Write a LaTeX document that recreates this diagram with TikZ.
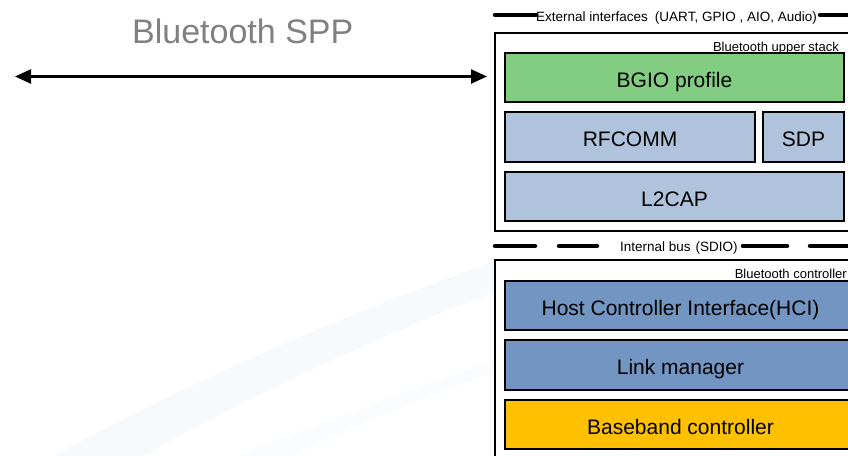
\documentclass[tikz,border=0pt]{standalone}
\usepackage{fontspec}
\setmainfont{Liberation Sans}
\usetikzlibrary{arrows.meta}
\definecolor{bggreen}{RGB}{130,205,130}
\definecolor{lightblk}{RGB}{176,195,221}
\definecolor{midblk}{RGB}{114,149,194}
\definecolor{basebd}{RGB}{255,192,0}
\definecolor{spptext}{RGB}{128,128,128}
\definecolor{swooshc}{RGB}{246,250,253}
\tikzset{
  frame/.style={draw, line width=2pt, inner sep=0pt, rectangle},
  layer/.style={draw, line width=2.2pt, inner sep=0pt, rectangle,
    text height=19pt, text depth=0pt,
    font=\fontsize{21}{24}\selectfont},
  smalllbl/.style={inner sep=0pt, font=\fontsize{13}{15}\selectfont},
  busline/.style={line width=4.5pt, line cap=round},
  spparrow/.style={line width=2.5pt, {Triangle[length=16pt,width=14pt]}-{Triangle[length=16pt,width=14pt]}},
}
\begin{document}
\begin{tikzpicture}[x=1pt,y=-1pt]
\useasboundingbox (0,0) rectangle (848,455);
% faint background swoosh
\fill[swooshc] (50,458) .. controls (200,375) and (380,300) .. (495,262) -- (495,292) .. controls (380,335) and (230,405) .. (140,458) -- cycle;
\fill[swooshc!60!white] (230,458) .. controls (330,420) and (420,385) .. (495,360) -- (495,372) .. controls (420,400) and (340,430) .. (290,458) -- cycle;

% title
\node[anchor=base west, inner sep=0pt, text=spptext, font=\fontsize{34}{38}\selectfont] (spp) at (132,43) {Bluetooth SPP};

% upper stack
\node[frame, minimum width=357pt, minimum height=198pt] (upper) at (673.5,132) {};
\node[smalllbl, anchor=base east] (upperlbl) at (839,51) {Bluetooth upper stack};
\node[layer, fill=bggreen, minimum width=339pt, minimum height=49pt] (bgio) at (674.5,77.5) {BGIO profile};
\node[layer, fill=lightblk, minimum width=250pt, minimum height=50pt] (rfcomm) at (630,137) {RFCOMM};
\node[layer, fill=lightblk, minimum width=81pt, minimum height=50pt] (sdp) at (803.5,137) {SDP};
\node[layer, fill=lightblk, minimum width=339pt, minimum height=49pt] (l2cap) at (674.5,196.5) {L2CAP};

% controller
\node[frame, minimum width=365pt, minimum height=210pt] (lower) at (677.5,365) {};
\node[smalllbl, anchor=base east] (lowerlbl) at (847,278) {Bluetooth controller};
\node[layer, fill=midblk, minimum width=351pt, minimum height=49pt] (hci) at (680.5,305.5) {Host Controller Interface(HCI)};
\node[layer, fill=midblk, minimum width=351pt, minimum height=50pt] (lm) at (680.5,365) {Link manager};
\node[layer, fill=basebd, minimum width=351pt, minimum height=49pt] (bb) at (680.5,424.5) {Baseband controller};

% external interfaces line
\node[smalllbl, anchor=base west, font=\fontsize{13.5}{15}\selectfont] (ext) at (536,21.5) {External interfaces\hspace{7pt}(UART, GPIO , AIO, Audio)};
\draw[busline] (495,15) -- (ext.west |- 0,15);
\draw[busline] ([xshift=3pt]ext.east |- 0,15) -- (852,15);

% internal bus line
\node[smalllbl, anchor=base west, font=\fontsize{13.5}{15}\selectfont] (ibus) at (620,251.7) {Internal bus\hspace{5pt}(SDIO)};
\draw[busline] (495,246) -- (535,246);
\draw[busline] (559,246) -- (597,246);
\draw[busline] ([xshift=5pt]ibus.east |- 0,246) -- (787,246);
\draw[busline] (810,246) -- (852,246);

% SPP arrow
\coordinate (sppL) at (15,76.5);
\coordinate (sppR) at ([xshift=-7pt]upper.west |- sppL);
\draw[spparrow] (sppL) -- (sppR);
\end{tikzpicture}
\end{document}
